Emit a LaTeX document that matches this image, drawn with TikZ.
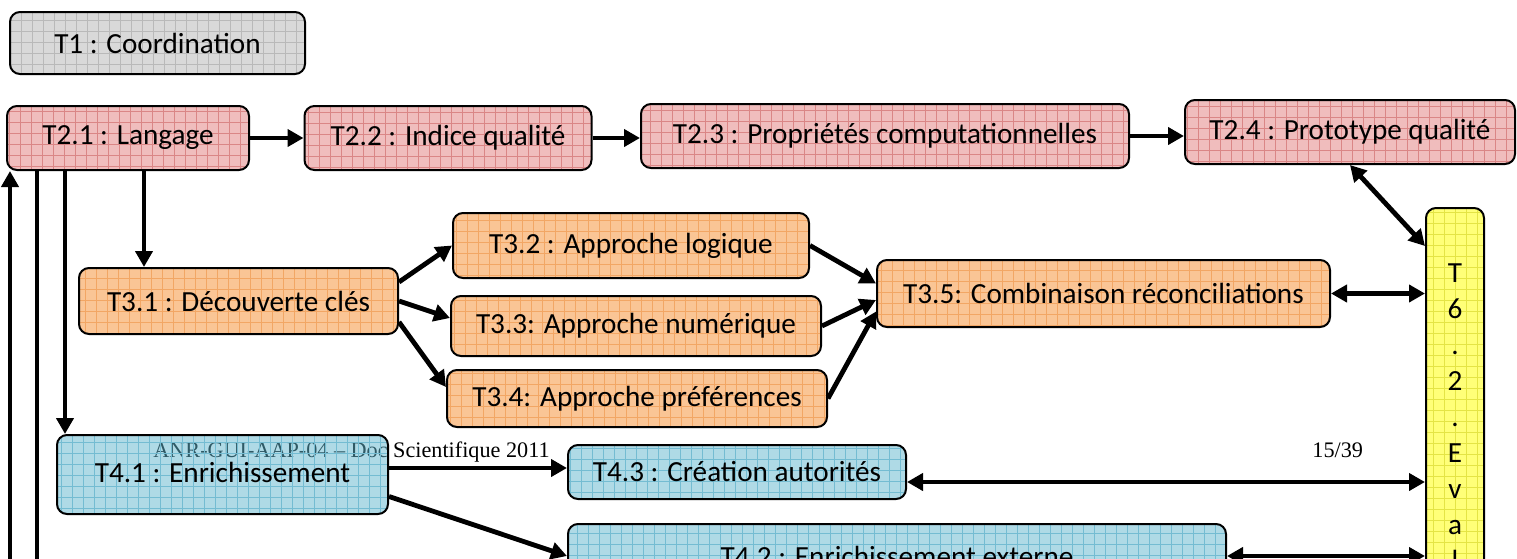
\documentclass[tikz,border=0pt]{standalone}
\usepackage{fontspec}
\setmainfont{Carlito}
\newfontfamily\headfont{Liberation Serif}
\usetikzlibrary{arrows.meta,calc}

\definecolor{greyfill}{HTML}{D9D9D9}
\definecolor{greygrid}{HTML}{B9B9B9}
\definecolor{pinkfill}{HTML}{F0BDBD}
\definecolor{pinkgrid}{HTML}{DA8686}
\definecolor{orangefill}{HTML}{FAC595}
\definecolor{orangegrid}{HTML}{F2A664}
\definecolor{bluefill}{HTML}{5FB5CD}
\definecolor{bluegrid}{HTML}{74BCD2}
\definecolor{yellowfill}{HTML}{FFFF78}
\definecolor{yellowgrid}{HTML}{E4E445}

\tikzset{gridfill/.style={path picture={\draw[#1,line width=0.5pt] (path picture bounding box.south west) grid[step=5.5pt] (path picture bounding box.north east);}}}

\begin{document}
\begin{tikzpicture}[x=0.5pt,y=-0.5pt]
        \tikzstyle{task} = [draw=black, line width=1pt, rounded corners=5pt, inner sep=0pt, font=\fontsize{14.6}{17}\selectfont]
        \tikzstyle{wp1} = [task, fill=greyfill, gridfill=greygrid]
        \tikzstyle{wp2} = [task, fill=pinkfill, gridfill=pinkgrid]
        \tikzstyle{wp3} = [task, fill=orangefill, gridfill=orangegrid]
        \tikzstyle{wp4} = [task, fill=bluefill, fill opacity=0.5, text opacity=1, gridfill=bluegrid]
        \tikzstyle{wp6} = [task, fill=yellowfill, gridfill=yellowgrid]
        \tikzstyle{link} = [line width=2.4pt, -{Triangle[length=8pt,width=8.5pt]}]
        \tikzstyle{both} = [line width=2.4pt, {Triangle[length=8pt,width=8.5pt]}-{Triangle[length=8pt,width=8.5pt]}]

        \useasboundingbox (0,0) rectangle (1517,558);
        \clip (0,0) rectangle (1517,558);

        % running head of the page, behind the boxes
        \node[anchor=base west, inner sep=0pt, font=\headfont\fontsize{11.1}{13}\selectfont] (head) at (153,457) {ANR-GUI-AAP-04 – Doc Scientifique 2011};
        \node[anchor=base west, inner sep=0pt, font=\headfont\fontsize{11.1}{13}\selectfont] (page) at (1312,457) {15/39};

        \node[wp1, minimum width=147.5pt, minimum height=31pt] (T1) at (157.5,43) {T1 : Coordination};

        \node[wp2, minimum width=121pt, minimum height=32pt] (T21) at (128,138) {T2.1 : Langage};
        \node[wp2, minimum width=143.5pt, minimum height=32pt] (T22) at (448,138) {T2.2 : Indice qualité};
        \node[wp2, minimum width=244pt, minimum height=32pt] (T23) at (885,136) {T2.3 : Propriétés computationnelles};
        \node[wp2, minimum width=165pt, minimum height=32pt] (T24) at (1350,132) {T2.4 : Prototype qualité};

        \node[wp3, minimum width=159.5pt, minimum height=33pt] (T31) at (238.5,301) {T3.1 : Découverte clés};
        \node[wp3, minimum width=178pt, minimum height=32.5pt] (T32) at (631,245.5) {T3.2 : Approche logique};
        \node[wp3, minimum width=185pt, minimum height=30pt] (T33) at (636,326) {T3.3: Approche numérique};
        \node[wp3, minimum width=190pt, minimum height=28.5pt] (T34) at (637,398.5) {T3.4: Approche préférences};
        \node[wp3, minimum width=226.5pt, minimum height=33.5pt] (T35) at (1103.5,293.5) {T3.5: Combinaison réconciliations};

        \node[wp4, minimum width=165.5pt, minimum height=39.5pt] (T41) at (222.5,474.5) {\raisebox{2pt}{T4.1 : Enrichissement}};
        \node[wp4, minimum width=169pt, minimum height=27pt] (T43) at (737,472) {T4.3 : Création autorités};
        \node[wp4, minimum width=329pt, minimum height=32pt] (T42) at (897,556) {T4.2 : Enrichissement externe};

        \node[wp6, minimum width=29pt, minimum height=246pt,
              label={[anchor=north, yshift=-24pt, align=center, inner sep=4pt, font=\fontsize{14.6}{18}\selectfont]north:T\\6\\.\\2\\.\\E\\v\\a\\l}] (T62) at (1455,454) {};

        % work package 2 chain
        \draw[link] (T21) -- (T22);
        \draw[link] (T22.east) -- (T22.east -| T23.west);
        \draw[link] (T23.east) -- (T23.east -| T24.west);
        \draw[both] (T24.south) -- ($(T62.north west)+(0,39)$);

        % langage feeds the other packages
        \coordinate (up) at (10,620);
        \coordinate (down) at (37,620);
        \draw[link] (up) -- (up |- T21.south);
        \draw[line width=2.4pt] (down |- T21.south) -- (down);
        \draw[link] ([xshift=29.5pt]T21.south west) -- ([xshift=29.5pt]T21.south west |- T41.north);
        \draw[link] ([xshift=8pt]T21.south) -- ([xshift=8pt]T21.south |- T31.north);

        % work package 3
        \draw[link] ([yshift=9.5pt]T31.east) -- (T32.west);
        \draw[link] (T31.east) -- ([yshift=4pt]T33.west);
        \draw[link] ([yshift=-10.5pt]T31.east) -- ([yshift=5.75pt]T34.west);
        \draw[link] (T32.east) -- ([yshift=5pt]T35.west);
        \draw[link] (T33.east) -- ([yshift=-3.25pt]T35.west);
        \draw[link] (T34.east) -- ([yshift=-9pt]T35.west);
        \draw[both] (T35.east) -- (T35.east -| T62.west);

        % work package 4
        \draw[link] ([yshift=3.25pt]T41.east) -- ([yshift=3.25pt]T41.east -| T43.west);
        \draw[link] ([yshift=-11pt]T41.east) -- (T42.west);
        \draw[both] ([yshift=-5pt]T43.east) -- ([yshift=-5pt]T43.east -| T62.west);
        \draw[both] (T42.east) -- (T42.east -| T62.west);

    \end{tikzpicture}
\end{document}
